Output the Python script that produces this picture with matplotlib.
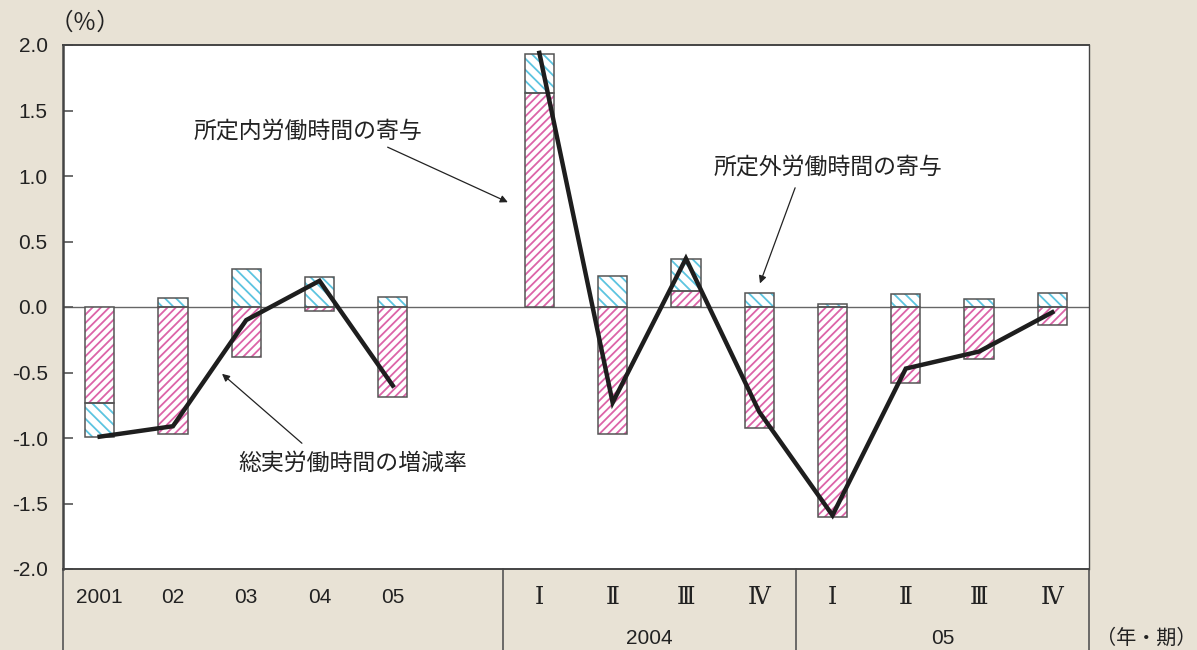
import matplotlib
matplotlib.use("Agg")
import matplotlib.pyplot as plt
import numpy as np

plt.rcParams['font.family'] = ['Liberation Sans', 'Noto Sans CJK JP']
plt.rcParams['hatch.linewidth'] = 1.3

# annual rates (%), 2001-05
annual_labels = ['2001', '02', '03', '04', '05']
annual_scheduled = [-0.73, -0.97, -0.38, -0.03, -0.69]
annual_overtime = [-0.26, 0.07, 0.29, 0.23, 0.08]
annual_total = [-0.99, -0.91, -0.10, 0.20, -0.60]

# quarterly rates (%), 2004 I - 2005 IV
quarter_labels = ['Ⅰ', 'Ⅱ', 'Ⅲ', 'Ⅳ', 'Ⅰ', 'Ⅱ', 'Ⅲ', 'Ⅳ']
quarter_years = ['2004', '05']
quarter_scheduled = [1.63, -0.97, 0.12, -0.92, -1.60, -0.58, -0.40, -0.14]
quarter_overtime = [0.30, 0.24, 0.25, 0.11, 0.02, 0.10, 0.06, 0.11]
quarter_total = [1.94, -0.73, 0.37, -0.80, -1.59, -0.47, -0.34, -0.04]

BG = '#e8e2d5'
PINK = '#dc64a8'
CYAN = '#5cc4e0'
EDGE = '#555555'
INK = '#222222'

fig = plt.figure(figsize=(11.97, 6.5), dpi=100, facecolor=BG)
ax = fig.add_axes([63 / 1197, 1 - 569 / 650, 1026 / 1197, 524 / 650])
ax.set_facecolor('white')

# slot positions: 5 years, an empty slot, then 8 quarters
xa = np.arange(len(annual_labels))
xq = np.arange(len(quarter_labels)) + len(annual_labels) + 1
x_all = np.concatenate([xa, xq])
sched = np.array(annual_scheduled + quarter_scheduled)
over = np.array(annual_overtime + quarter_overtime)
# overtime stacks onto scheduled when both share a sign
over_base = np.where(np.sign(over) == np.sign(sched), sched, 0.0)

w = 0.4
ax.bar(x_all, sched, w, color='white', edgecolor=PINK, hatch='////', linewidth=0, zorder=2)
ax.bar(x_all, over, w, bottom=over_base, color='white', edgecolor=CYAN, hatch='\\\\\\', linewidth=0, zorder=2)
ax.bar(x_all, sched, w, fill=False, edgecolor=EDGE, linewidth=1.1, zorder=3)
ax.bar(x_all, over, w, bottom=over_base, fill=False, edgecolor=EDGE, linewidth=1.1, zorder=3)

ax.axhline(0, color='#666666', lw=1.0, zorder=1)

ax.plot(xa, annual_total, color='#1e1e1e', lw=3.2, zorder=4, solid_joinstyle='miter')
ax.plot(xq, quarter_total, color='#1e1e1e', lw=3.2, zorder=4, solid_joinstyle='miter')

ax.set_xlim(-0.5, 13.5)
ax.set_ylim(-2.0, 2.0)
yt = np.arange(-2.0, 2.01, 0.5)
ax.set_yticks(yt)
ax.set_yticklabels([f'{v:.1f}' for v in yt])
ax.tick_params(axis='y', direction='in', length=7, width=1.2, color='#555555',
               labelsize=15, labelcolor=INK, pad=11)
ax.set_xticks([])
for side in ['left', 'bottom', 'top', 'right']:
    ax.spines[side].set_color('#444444')
ax.spines['left'].set_linewidth(1.8)
ax.spines['bottom'].set_linewidth(1.4)
ax.spines['top'].set_linewidth(1.4)
ax.spines['right'].set_linewidth(1.0)

# category table below the plot
tr = ax.get_xaxis_transform()
y_low = -81 / 524
for xs in [-0.5, 5.5, 9.5, 13.5]:
    ax.plot([xs, xs], [0, y_low], transform=tr, color='#555555', lw=1.2, clip_on=False)

for x, lab in zip(xa, annual_labels):
    ax.text(x, -0.055, lab, transform=tr, ha='center', va='center', fontsize=15, color=INK)
for x, lab in zip(xq, quarter_labels):
    ax.text(x, -0.055, lab, transform=tr, ha='center', va='center', fontsize=17,
            color=INK, family=['DejaVu Serif', 'Noto Sans CJK JP'])
for i, yr in enumerate(quarter_years):
    ax.text(xq[4 * i:4 * i + 4].mean(), -0.132, yr, transform=tr, ha='center', va='center',
            fontsize=15, color=INK)

fig.text(1196 / 1197, 1 - 638 / 650, '（年・期）', ha='right', va='center', fontsize=14.5, color=INK)
fig.text(50 / 1197, 1 - 23 / 650, '（％）', ha='left', va='center', fontsize=17, color=INK)

arrow = dict(arrowstyle='-|>', color=INK, lw=0.9, mutation_scale=11, shrinkA=0, shrinkB=0)
ax.annotate('', xy=(5.57, 0.80), xytext=(3.93, 1.22), arrowprops=arrow)
ax.annotate('', xy=(9.01, 0.18), xytext=(9.49, 0.91), arrowprops=arrow)
ax.annotate('', xy=(1.67, -0.51), xytext=(2.76, -1.04), arrowprops=arrow)
ax.text(2.84, 1.345, '所定内労働時間の寄与', ha='center', va='center', fontsize=16.5, color=INK)
ax.text(9.94, 1.07, '所定外労働時間の寄与', ha='center', va='center', fontsize=16.5, color=INK)
ax.text(3.46, -1.19, '総実労働時間の増減率', ha='center', va='center', fontsize=16.5, color=INK)

fig.savefig('out.png', dpi=100, facecolor=BG)
